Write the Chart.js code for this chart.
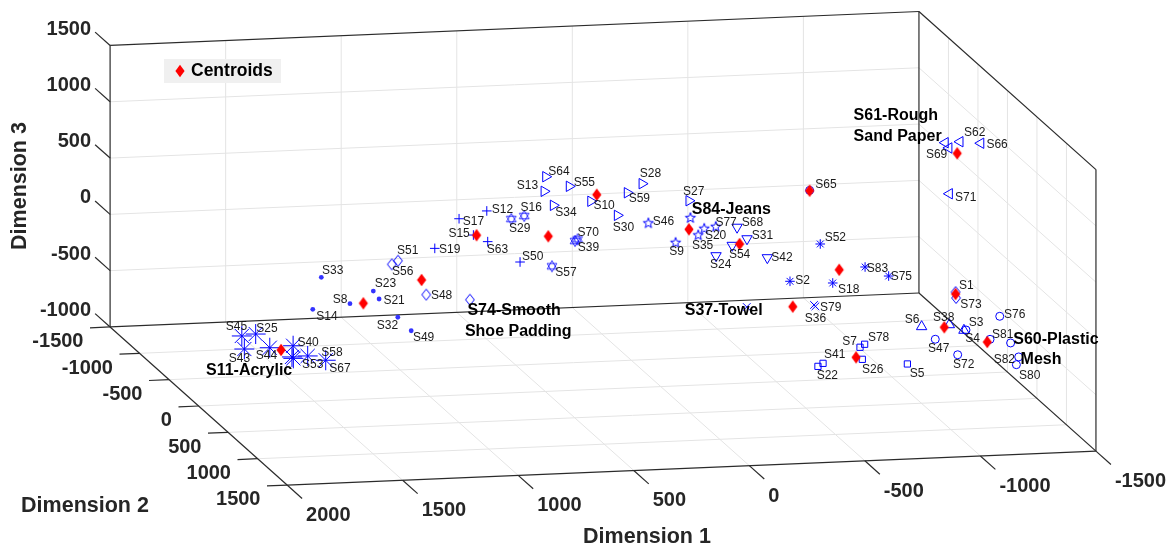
<!DOCTYPE html>
<html>
<head>
<meta charset="utf-8">
<title>Centroids</title>
<script src="https://cdn.jsdelivr.net/npm/chart.js@4"></script>
<style>
  html, body { margin: 0; padding: 0; background: #fff; }
  canvas { display: block; }
</style>
</head>
<body>
<canvas id="plot" width="1173" height="549"></canvas>
<script>
// values, one row per sample group
const sampleNames = [
  "S33", "S23", "S8", "S21", "S14", "S32", "S49",
  "S51", "S56", "S48", "S74", "S1", "S73",
  "S45", "S25", "S43", "S44", "S40", "S53", "S11", "S58", "S67",
  "S17", "S12", "S15", "S19", "S63", "S50",
  "S29", "S16", "S70", "S39", "S57",
  "S64", "S13", "S55", "S34", "S10", "S28", "S59", "S30", "S27",
  "S46", "S9", "S84", "S35", "S20", "S77",
  "S68", "S31", "S54", "S24", "S42",
  "S65", "S3", "S47", "S72", "S76", "S81", "S60", "S82", "S80",
  "S52", "S2", "S18", "S83", "S75",
  "S37", "S79", "S36",
  "S7", "S78", "S41", "S22", "S26", "S5",
  "S6", "S38", "S4",
  "S62", "S66", "S61", "S69", "S71"
];
const dim1 = [
  1469, 1244, 1345, 1219, 1506, 1138, 1080,
  1137, 1164, 1015, 826, -1148, -1150,
  1813, 1753, 1802, 1692, 1591, 1590, 1596, 1528, 1450,
  873, 753, 811, 978, 749, 609,
  647, 591, 360, 371, 471,
  498, 505, 396, 465, 303, 81, 145, 188, -122,
  54, -64, -128, -162, -188, -238,
  -330, -373, -309, -239, -461,
  -644, -1193, -1060, -1157, -1339, -1297, -1386, -1421, -1411,
  -690, -559, -744, -884, -986,
  -372, -669, -663,
  -862, -882, -702, -680, -872, -1067,
  -1001, -1121, -1184,
  -1167, -1257, -1103, -1119, -1121
];
const dim2 = [
  0, 0, 0, 0, 0, 0, 0,
  0, 0, 0, 0, 500, 500,
  0, 0, 0, 0, 0, 0, 0, 0, 0,
  0, 0, 0, 0, 0, 0,
  0, 0, 0, 0, 0,
  0, 0, 0, 0, 0, 0, 0, 0, 0,
  0, 0, 0, 0, 0, 0,
  0, 0, 0, 0, 0,
  0, 500, 500, 500, 500, 500, 500, 500, 500,
  0, 0, 0, 0, 0,
  0, 0, 0,
  0, 0, 0, 0, 0, 0,
  500, 500, 500,
  500, 500, 500, 500, 500
];
const dim3 = [
  97, -44, -148, -117, -184, -286, -411,
  216, 186, -96, -157, -25, -78,
  -394, -382, -511, -509, -500, -612, -599, -596, -641,
  566, 625, 416, 312, 352, 159,
  544, 566, 339, 325, 109,
  907, 778, 813, 650, 672, 809, 734, 537, 640,
  455, 272, 486, 330, 386, 399,
  387, 281, 228, 142, 105,
  687, -366, -437, -583, -257, -458, -498, -625, -693,
  207, -113, -144, -14, -103,
  -325, -345, -332,
  -725, -700, -854, -879, -833, -891,
  -320, -313, -368,
  1308, 1287, 1305, 1257, 850
];
const sampleGroups = [
  "dot", "dot", "dot", "dot", "dot", "dot", "dot",
  "diamond", "diamond", "diamond", "diamond", "diamond", "diamond",
  "bigStar", "bigStar", "bigStar", "bigStar", "bigStar", "bigStar", "bigStar", "bigStar", "bigStar",
  "plus", "plus", "plus", "plus", "plus", "plus",
  "hexagram", "hexagram", "hexagram", "hexagram", "hexagram",
  "triRight", "triRight", "triRight", "triRight", "triRight", "triRight", "triRight", "triRight", "triRight",
  "pentagram", "pentagram", "pentagram", "pentagram", "pentagram", "pentagram",
  "triDown", "triDown", "triDown", "triDown", "triDown",
  "circle", "circle", "circle", "circle", "circle", "circle", "circle", "circle", "circle",
  "star", "star", "star", "star", "star",
  "cross", "cross", "cross",
  "square", "square", "square", "square", "square", "square",
  "triUp", "triUp", "triUp",
  "triLeft", "triLeft", "triLeft", "triLeft", "triLeft"
];

const centroidDim1 = [1287, 1035, 1643, 797, 487, 277, -122, -341, -644, -772, -571, -845, -1099, -1285, -1148, -1155];
const centroidDim2 = [0, 0, 0, 0, 0, 0, 0, 0, 0, 0, 0, 0, 500, 500, 500, 500];
const centroidDim3 = [-149, 36, -533, 413, 377, 728, 386, 237, 684, -29, -339, -813, -334, -481, -43, 1206];

const dim1Ticks = [2000, 1500, 1000, 500, 0, -500, -1000, -1500];
const dim2Ticks = [-1500, -1000, -500, 0, 500, 1000, 1500];
const dim3Ticks = [-1000, -500, 0, 500, 1000, 1500];

// fixed view of the 3D box, same as the orthographic camera in the picture
function project(d1, d2, d3) {
  return {
    x: 660.8 - 0.2311 * d1 + 0.059 * d2,
    y: 274 + 0.00971 * d1 + 0.0527 * d2 - 0.1126 * d3
  };
}

function markerCanvas(draw) {
  const c = document.createElement("canvas");
  c.width = 20;
  c.height = 20;
  const g = c.getContext("2d");
  g.translate(10, 10);
  draw(g);
  return c;
}

function polygon(g, points) {
  g.beginPath();
  points.forEach((p, i) => (i ? g.lineTo(p[0], p[1]) : g.moveTo(p[0], p[1])));
  g.closePath();
}

function ringPoints(count, radius, startDeg, inner) {
  const pts = [];
  for (let i = 0; i < count; i++) {
    const r = inner && i % 2 ? inner : radius;
    const a = ((startDeg + (i * 360) / count) * Math.PI) / 180;
    pts.push([Math.cos(a) * r, Math.sin(a) * r]);
  }
  return pts;
}

const BLUE = "#0000ff";
const diamondMark = markerCanvas(g => {
  polygon(g, [[0, -5.5], [4.4, 0], [0, 5.5], [-4.4, 0]]);
  g.strokeStyle = BLUE;
  g.stroke();
});
const centroidMark = markerCanvas(g => {
  polygon(g, [[0, -6.2], [4.6, 0], [0, 6.2], [-4.6, 0]]);
  g.fillStyle = "#ff0000";
  g.fill();
});
const pentagramMark = markerCanvas(g => {
  polygon(g, ringPoints(10, 5.4, -90, 2.2));
  g.strokeStyle = BLUE;
  g.stroke();
});
const hexagramMark = markerCanvas(g => {
  g.strokeStyle = BLUE;
  g.lineWidth = 0.8;
  polygon(g, ringPoints(3, 5.6, -90));
  g.stroke();
  polygon(g, ringPoints(3, 5.6, 90));
  g.stroke();
});

const groupStyles = {
  dot: { style: "circle", radius: 2.4, fill: "#3333ff" },
  diamond: { style: diamondMark, radius: 6 },
  bigStar: { style: "star", radius: 10 },
  plus: { style: "cross", radius: 4.8 },
  hexagram: { style: hexagramMark, radius: 6 },
  triRight: { style: "triangle", radius: 6, rotation: 90 },
  pentagram: { style: pentagramMark, radius: 6 },
  triDown: { style: "triangle", radius: 6, rotation: 180 },
  circle: { style: "circle", radius: 4 },
  star: { style: "star", radius: 4.8 },
  cross: { style: "crossRot", radius: 5.4 },
  square: { style: "rect", radius: 4.4 },
  triUp: { style: "triangle", radius: 6 },
  triLeft: { style: "triangle", radius: 6, rotation: 270 }
};

const datasets = [];

function addLine(a, b, color) {
  datasets.push({
    data: [project(a[0], a[1], a[2]), project(b[0], b[1], b[2])],
    showLine: true,
    borderColor: color,
    borderWidth: color === GRID ? 1 : 1.2,
    pointRadius: 0,
    order: color === GRID ? 5 : 4
  });
}

const GRID = "#e4e4e4";
const AXIS = "#2b2b2b";
const d1Max = 2000, d1Min = -1500, d2Min = -1500, d2Max = 1500, d3Min = -1000, d3Max = 1500;
const TICK1 = 254, TICK2 = 87;

dim1Ticks.slice(1, -1).forEach(t => {
  addLine([t, d2Min, d3Min], [t, d2Min, d3Max], GRID);
  addLine([t, d2Min, d3Min], [t, d2Max, d3Min], GRID);
});
dim2Ticks.slice(1, -1).forEach(t => {
  addLine([d1Min, t, d3Min], [d1Min, t, d3Max], GRID);
  addLine([d1Min, t, d3Min], [d1Max, t, d3Min], GRID);
});
dim3Ticks.slice(1, -1).forEach(t => {
  addLine([d1Max, d2Min, t], [d1Min, d2Min, t], GRID);
  addLine([d1Min, d2Min, t], [d1Min, d2Max, t], GRID);
});

// box edges
addLine([d1Max, d2Min, d3Max], [d1Min, d2Min, d3Max], AXIS);
addLine([d1Min, d2Min, d3Max], [d1Min, d2Max, d3Max], AXIS);
addLine([d1Max, d2Min, d3Min], [d1Max, d2Min, d3Max], AXIS);
addLine([d1Min, d2Min, d3Min], [d1Min, d2Min, d3Max], AXIS);
addLine([d1Min, d2Max, d3Min], [d1Min, d2Max, d3Max], AXIS);
addLine([d1Max, d2Min, d3Min], [d1Min, d2Min, d3Min], AXIS);
addLine([d1Max, d2Max, d3Min], [d1Min, d2Max, d3Min], AXIS);
addLine([d1Max, d2Min, d3Min], [d1Max, d2Max, d3Min], AXIS);
addLine([d1Min, d2Min, d3Min], [d1Min, d2Max, d3Min], AXIS);

// ticks
dim1Ticks.forEach(t => addLine([t, d2Max, d3Min], [t, d2Max + TICK1, d3Min], AXIS));
dim2Ticks.forEach(t => addLine([d1Max, t, d3Min], [d1Max + TICK2, t, d3Min], AXIS));
dim3Ticks.forEach(t => addLine([d1Max, d2Min, t], [d1Max, d2Min - TICK1, t], AXIS));

Object.keys(groupStyles).forEach(group => {
  const s = groupStyles[group];
  const pts = [];
  sampleNames.forEach((name, i) => {
    if (sampleGroups[i] === group) pts.push(project(dim1[i], dim2[i], dim3[i]));
  });
  datasets.push({
    data: pts,
    pointStyle: s.style,
    pointRadius: s.radius,
    pointRotation: s.rotation || 0,
    pointBorderColor: s.fill ? s.fill : BLUE,
    pointBackgroundColor: s.fill ? s.fill : "transparent",
    pointBorderWidth: s.fill ? 0 : 1,
    order: 2
  });
});

datasets.push({
  data: centroidDim1.map((d, i) => project(d, centroidDim2[i], centroidDim3[i])),
  pointStyle: centroidMark,
  pointRadius: 6,
  order: 1
});

// where each sample name sits relative to its marker
const labelOffsets = {
  S33: [0.7, -6.3], S23: [1.4, -7.3], S8: [-17.3, -4.4], S21: [4.3, 1.7], S14: [3.6, 7.7], S32: [-21, 8.4], S49: [1.7, 7.3],
  S51: [-1, -10], S56: [0.3, 7], S48: [4.7, 0.6], S1: [3.3, -6.7], S73: [4.3, 6.7],
  S45: [-16, -9.3], S25: [0.6, -5.7], S43: [-15.6, 9.7], S44: [-14, 7.6], S40: [4.3, -3.4], S53: [8.7, 6.4], S58: [13.6, -3], S67: [3.6, 8.4],
  S17: [3.7, 3.3], S12: [5, -1], S15: [-25, -1.7], S19: [4.3, 1.7], S63: [-1, 7.6], S50: [2, -5.3],
  S29: [-2.3, 9.7], S16: [-3.6, -8.7], S70: [0, -7], S39: [2.7, 6.7], S57: [3.3, 6.4],
  S64: [2.6, -5.4], S13: [-27.3, -5.3], S55: [4.4, -4], S34: [2, 7.4], S10: [2.6, 4.4], S28: [-2.3, -10], S59: [1.4, 6.3], S30: [-4.6, 12.4], S27: [-6, -9.4],
  S46: [4.4, -2], S9: [-6.4, 9.3], S35: [-6.3, 10], S20: [0.7, 7.3], S77: [-0.4, -4],
  S68: [4.7, -4.6], S31: [4.7, -3.4], S54: [-3.3, 9.4], S24: [-6, 8.6], S42: [4, 0],
  S65: [5.6, -5.6], S3: [2.7, -7.3], S47: [-7.3, 9.7], S72: [-4.7, 10], S76: [4.3, -2], S81: [2, -5], S82: [-25, 2.7], S80: [2.7, 11.3],
  S52: [4.4, -6.3], S2: [5.3, -1], S18: [5.3, 6.3], S83: [1.7, 1.3], S75: [2, 1],
  S79: [4.7, 1.7], S36: [-9.3, 13.3],
  S7: [-17.7, -6], S78: [3.3, -7], S41: [1, -8.6], S22: [-1.3, 9.7], S26: [-0.3, 10], S5: [2.4, 9.3],
  S6: [-17, -7], S38: [-16.3, -7], S4: [1.3, 8.7],
  S62: [4, -9], S66: [5.6, 1.4], S69: [-23, 7], S71: [5.7, 3.6]
};

// the bold callouts
const callouts = [
  ["S74", "S74-Smooth", -2.5, 11.3], ["S74", "Shoe Padding", -5, 32.3],
  ["S11", "S11-Acrylic", -86, 13.7],
  ["S84", "S84-Jeans", 1.4, -8.7],
  ["S37", "S37-Towel", -62, 4],
  ["S60", "S60-Plastic", 2.6, -3.7], ["S60", "Mesh", 10, 16.7],
  ["S61", "S61-Rough", -91.6, -27], ["S61", "Sand Paper", -91.6, -6]
];

const FONT = '"Liberation Sans", Arial, sans-serif';

const boxText = {
  id: "boxText",
  afterDatasetsDraw(chart) {
    const ctx = chart.ctx;
    const sx = chart.scales.x, sy = chart.scales.y;
    const at = (d1, d2, d3) => {
      const p = project(d1, d2, d3);
      return { x: sx.getPixelForValue(p.x), y: sy.getPixelForValue(p.y) };
    };
    const markerAt = name => {
      const i = sampleNames.indexOf(name);
      return at(dim1[i], dim2[i], dim3[i]);
    };

    ctx.save();
    ctx.textBaseline = "middle";

    ctx.fillStyle = "#1a1a1a";
    ctx.font = "12px " + FONT;
    ctx.textAlign = "left";
    Object.keys(labelOffsets).forEach(name => {
      const p = markerAt(name);
      ctx.fillText(name, p.x + labelOffsets[name][0], p.y + labelOffsets[name][1]);
    });

    ctx.fillStyle = "#000";
    ctx.font = "bold 16px " + FONT;
    callouts.forEach(c => {
      const p = markerAt(c[0]);
      ctx.fillText(c[1], p.x + c[2], p.y + c[3]);
    });

    // tick labels
    ctx.fillStyle = "#262626";
    ctx.font = "bold 20px " + FONT;
    ctx.textAlign = "right";
    dim3Ticks.forEach(t => {
      const p = at(d1Max, d2Min - TICK1, t);
      ctx.fillText(String(t), p.x - 4, p.y - 3);
    });
    dim2Ticks.forEach(t => {
      const p = at(d1Max + TICK2, t, d3Min);
      ctx.fillText(String(t), p.x - 6.5, p.y + 14);
    });
    ctx.textAlign = "left";
    dim1Ticks.forEach(t => {
      const p = at(t, d2Max + TICK1, d3Min);
      ctx.fillText(String(t), p.x + 4, p.y + 17);
    });

    // axis titles
    ctx.font = "bold 21.5px " + FONT;
    ctx.textAlign = "center";
    ctx.fillText("Dimension 1", 647, 537);
    ctx.fillText("Dimension 2", 85, 506);
    ctx.save();
    ctx.translate(20, 186);
    ctx.rotate(-Math.PI / 2);
    ctx.fillText("Dimension 3", 0, 0);
    ctx.restore();

    // legend
    ctx.fillStyle = "#f0f0f0";
    ctx.fillRect(164, 59, 117, 24);
    ctx.drawImage(centroidMark, 170, 61);
    ctx.fillStyle = "#000";
    ctx.font = "bold 17.5px " + FONT;
    ctx.textAlign = "left";
    ctx.fillText("Centroids", 191, 71.5);
    ctx.restore();
  }
};

new Chart(document.getElementById("plot"), {
  type: "scatter",
  data: { datasets: datasets },
  plugins: [boxText],
  options: {
    responsive: false,
    animation: false,
    layout: { padding: 0, autoPadding: false },
    plugins: { legend: { display: false }, tooltip: { enabled: false } },
    scales: {
      x: { type: "linear", min: 0, max: 1173, display: false },
      y: { type: "linear", min: 0, max: 549, reverse: true, display: false }
    }
  }
});
</script>
</body>
</html>
